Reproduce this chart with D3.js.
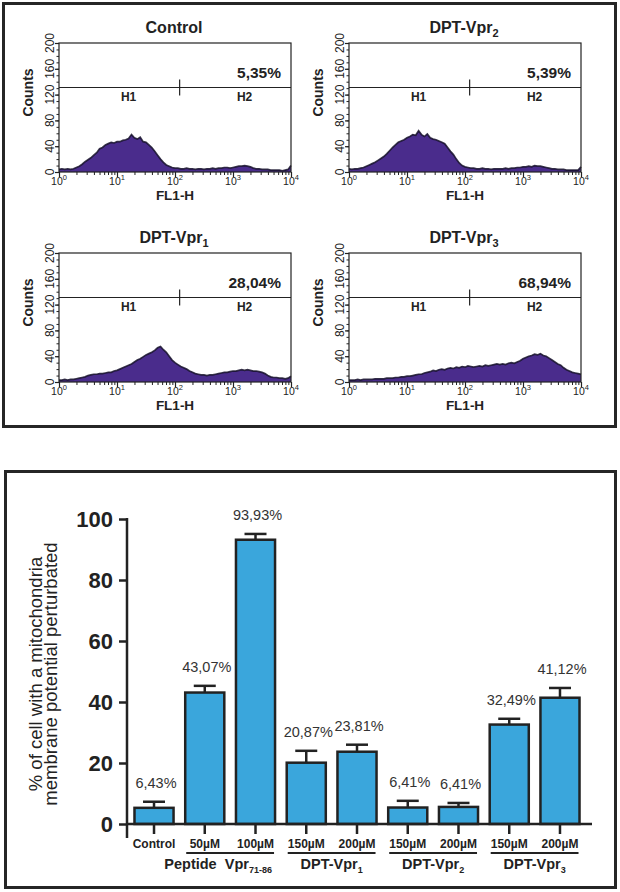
<!DOCTYPE html>
<html>
<head>
<meta charset="utf-8">
<script src="https://cdn.jsdelivr.net/npm/d3@7"></script>
<style>
  body { margin: 0; background: #fff; }
  svg { display: block; font-family: "Liberation Sans", Arial, Helvetica, sans-serif; }
</style>
</head>
<body>
<div id="chart"></div>
<script>
// ---- FACS histograms (FL1-H channels as log10 decades) ----
const channels = [0.00,0.05,0.10,0.15,0.20,0.25,0.30,0.35,0.40,0.45,
  0.50,0.55,0.60,0.65,0.70,0.75,0.80,0.85,0.90,0.95,
  1.00,1.05,1.10,1.15,1.20,1.25,1.30,1.35,1.40,1.45,
  1.50,1.55,1.60,1.65,1.70,1.75,1.80,1.85,1.90,1.95,
  2.00,2.05,2.10,2.15,2.20,2.25,2.30,2.35,2.40,2.45,
  2.50,2.55,2.60,2.65,2.70,2.75,2.80,2.85,2.90,2.95,
  3.00,3.05,3.10,3.15,3.20,3.25,3.30,3.35,3.40,3.45,
  3.50,3.55,3.60,3.65,3.70,3.75,3.80,3.85,3.90,3.95,4.00];

const countsControl = [4,5,4,5,4,5,7,9,12,16,
  19,22,26,30,36,38,42,44,46,45,
  47,47,49,50,52,58,53,51,54,47,
  46,42,38,32,26,20,15,11,9,7,
  6,6,5,5,6,5,5,4,5,5,
  4,5,5,6,5,6,6,7,7,6,
  7,8,9,9,10,9,8,6,5,5,
  4,4,4,3,3,3,3,2,3,4,10];
const countsVpr2 = [5,4,5,5,6,7,9,11,13,15,
  18,21,24,28,33,38,42,46,48,50,
  53,55,58,57,64,58,55,59,53,51,
  50,48,46,44,38,32,27,20,14,10,
  8,7,6,6,5,5,6,5,5,4,
  5,5,5,5,6,5,6,6,7,7,
  8,8,9,8,10,9,9,8,7,6,
  5,5,4,4,4,3,3,3,3,3,8];
const countsVpr1 = [3,3,4,3,4,4,5,6,7,8,
  10,11,12,12,13,13,14,15,15,17,
  18,20,22,24,26,28,31,34,36,39,
  42,44,46,49,53,55,50,46,40,34,
  30,27,24,22,20,17,15,13,12,11,
  11,10,11,11,12,13,14,15,15,16,
  17,17,18,19,18,19,18,17,17,16,
  15,13,10,8,7,7,6,6,5,6,9];
const countsVpr3 = [3,3,3,4,3,4,4,4,4,5,
  5,5,5,6,6,6,7,7,8,8,
  9,9,10,11,12,12,14,15,16,18,
  17,19,20,19,21,22,21,23,22,24,
  23,25,24,23,24,25,24,26,25,26,
  27,28,27,28,27,29,30,29,31,33,
  36,38,40,41,43,42,44,41,40,37,
  34,31,28,26,22,19,17,15,14,13,12];

const histTitles = ["Control", "DPT-Vpr", "DPT-Vpr", "DPT-Vpr"];
const histTitleSubs = ["", "2", "1", "3"];
const histPercents = ["5,35%", "5,39%", "28,04%", "68,94%"];
const histCounts = [countsControl, countsVpr2, countsVpr1, countsVpr3];
const countTicks = [0, 40, 80, 120, 160, 200];
const flDecades = [0, 1, 2, 3, 4];
const markerCount = 131;   // H1/H2 gate marker height
const markerSplit = 2.08;  // log10 boundary between H1 and H2

// ---- Bar chart ----
const barLabels = ["Control", "50µM", "100µM", "150µM", "200µM", "150µM", "200µM", "150µM", "200µM"];
const barMeans = [5.3, 43.1, 93.2, 20.1, 23.7, 5.4, 5.6, 32.6, 41.4];
const barErrors = [2.0, 2.2, 1.9, 3.9, 2.3, 2.2, 1.3, 1.9, 3.2];
const barValueText = ["6,43%", "43,07%", "93,93%", "20,87%", "23,81%", "6,41%", "6,41%", "32,49%", "41,12%"];
const groupNames = ["Peptide  Vpr", "DPT-Vpr", "DPT-Vpr", "DPT-Vpr"];
const groupSubs = ["71-86", "1", "2", "3"];
const groupFirst = [1, 3, 5, 7];
const groupLast = [2, 4, 6, 8];
const pctTicks = [0, 20, 40, 60, 80, 100];

const W = 620, H = 892;
const svg = d3.select("#chart").append("svg").attr("width", W).attr("height", H);

// outer frames
svg.append("rect").attr("x", 3.5).attr("y", 3.5).attr("width", 612).attr("height", 423)
  .attr("fill", "none").attr("stroke", "#262626").attr("stroke-width", 3);
svg.append("rect").attr("x", 5.5).attr("y", 471.5).attr("width", 610).attr("height", 416)
  .attr("fill", "none").attr("stroke", "#262626").attr("stroke-width", 3);

// ---------- histograms ----------
const panels = [{x: 59, y: 43}, {x: 349, y: 43}, {x: 59, y: 253}, {x: 349, y: 253}];
const pw = 232, ph = 129;

panels.forEach((p, i) => {
  const g = svg.append("g").attr("transform", `translate(${p.x},${p.y})`);
  const x = d3.scaleLog().domain([1, 1e4]).range([0, pw]);
  const y = d3.scaleLinear().domain([0, 200]).range([ph, 0]);
  const pts = channels.map((c, k) => [Math.pow(10, c), histCounts[i][k]]);

  const area = d3.area().x(d => x(d[0])).y0(y(0)).y1(d => y(d[1]));
  const line = d3.line().x(d => x(d[0])).y(d => y(d[1]));
  g.append("path").attr("d", area(pts)).attr("fill", "#4a2c8c");
  g.append("path").attr("d", line(pts)).attr("fill", "none")
    .attr("stroke", "#16122a").attr("stroke-width", 1.7).attr("stroke-opacity", 0.85);

  // frame box
  g.append("rect").attr("width", pw).attr("height", ph)
    .attr("fill", "none").attr("stroke", "#222").attr("stroke-width", 1.2);

  // x axis: major + minor log ticks
  const xMinor = d3.axisBottom(x).tickValues(x.ticks()).tickSize(3).tickFormat("");
  g.append("g").attr("transform", `translate(0,${ph})`).call(xMinor)
    .call(a => a.select(".domain").remove())
    .call(a => a.selectAll("line").attr("stroke", "#222"));
  const xMajor = d3.axisBottom(x).tickValues(flDecades.map(e => Math.pow(10, e))).tickSize(5).tickFormat("");
  g.append("g").attr("transform", `translate(0,${ph})`).call(xMajor)
    .call(a => a.select(".domain").remove())
    .call(a => a.selectAll("line").attr("stroke", "#222").attr("stroke-width", 1.2));
  flDecades.forEach(e => {
    const t = g.append("text").attr("x", x(Math.pow(10, e))).attr("y", ph + 12.5)
      .attr("text-anchor", "middle").attr("font-size", 10.5).attr("fill", "#222");
    t.append("tspan").text("10");
    t.append("tspan").attr("dy", -5).attr("font-size", 7.5).text(e);
  });
  g.append("text").attr("x", pw / 2).attr("y", ph + 27.5).attr("text-anchor", "middle")
    .attr("font-size", 13.5).attr("font-weight", "bold").attr("fill", "#222").text("FL1-H");

  // y axis: minor + major ticks, rotated labels
  const yMinor = d3.axisLeft(y).tickValues(d3.ticks(0, 200, 20)).tickSize(2.5).tickFormat("");
  g.append("g").call(yMinor).call(a => a.select(".domain").remove())
    .call(a => a.selectAll("line").attr("stroke", "#222"));
  const yMajor = d3.axisLeft(y).tickValues(countTicks).tickSize(4).tickFormat("");
  g.append("g").call(yMajor).call(a => a.select(".domain").remove())
    .call(a => a.selectAll("line").attr("stroke", "#222").attr("stroke-width", 1.2));
  countTicks.forEach(v => {
    g.append("text").attr("transform", `translate(-5,${y(v)}) rotate(-90)`)
      .attr("text-anchor", "middle").attr("font-size", 12).attr("fill", "#222").text(v);
  });
  g.append("text").attr("transform", `translate(-26,${ph / 2 - 15}) rotate(-90)`)
    .attr("text-anchor", "middle").attr("font-size", 14).attr("font-weight", "bold")
    .attr("fill", "#222").text("Counts");

  // title
  const tt = g.append("text").attr("x", pw / 2 - 1).attr("y", -10).attr("text-anchor", "middle")
    .attr("font-size", 16).attr("font-weight", "bold").attr("fill", "#222");
  tt.append("tspan").text(histTitles[i]);
  if (histTitleSubs[i]) tt.append("tspan").attr("dy", 4).attr("font-size", 11).text(histTitleSubs[i]);

  // gate marker
  const my = y(markerCount);
  g.append("line").attr("x1", 0).attr("x2", pw).attr("y1", my).attr("y2", my)
    .attr("stroke", "#222").attr("stroke-width", 1.2);
  const sx = x(Math.pow(10, markerSplit));
  g.append("line").attr("x1", sx).attr("x2", sx).attr("y1", my - 8).attr("y2", my + 8)
    .attr("stroke", "#222").attr("stroke-width", 1.2);
  g.append("text").attr("x", x(Math.pow(10, 1.2))).attr("y", my + 13).attr("text-anchor", "middle")
    .attr("font-size", 12).attr("font-weight", "bold").attr("fill", "#222").text("H1");
  g.append("text").attr("x", x(Math.pow(10, 3.2))).attr("y", my + 13).attr("text-anchor", "middle")
    .attr("font-size", 12).attr("font-weight", "bold").attr("fill", "#222").text("H2");
  g.append("text").attr("x", pw - 10).attr("y", my - 10).attr("text-anchor", "end")
    .attr("font-size", 15.5).attr("font-weight", "bold").attr("fill", "#222").text(histPercents[i]);
});

// ---------- bar chart ----------
const yb = d3.scaleLinear().domain([0, 100]).range([824, 519]);
const xb = d3.scaleBand().domain(d3.range(barLabels.length)).range([129, 585])
  .paddingInner(0.23).paddingOuter(0.108);
const bc = svg.append("g");

// bars
bc.selectAll("rect.bar").data(barMeans).enter().append("rect").attr("class", "bar")
  .attr("x", (d, i) => xb(i)).attr("width", xb.bandwidth())
  .attr("y", d => yb(d)).attr("height", d => yb(0) - yb(d))
  .attr("fill", "#3aa6dc").attr("stroke", "#222").attr("stroke-width", 2.5);

// error bars (upper only)
barMeans.forEach((m, i) => {
  const cx = xb(i) + xb.bandwidth() / 2;
  bc.append("line").attr("x1", cx).attr("x2", cx).attr("y1", yb(m)).attr("y2", yb(m + barErrors[i]))
    .attr("stroke", "#222").attr("stroke-width", 2.5);
  bc.append("line").attr("x1", cx - 11).attr("x2", cx + 11)
    .attr("y1", yb(m + barErrors[i])).attr("y2", yb(m + barErrors[i]))
    .attr("stroke", "#222").attr("stroke-width", 2.5);
  bc.append("text").attr("x", cx + 2).attr("y", yb(m + barErrors[i]) - 14)
    .attr("text-anchor", "middle").attr("font-size", 14.5).attr("fill", "#333").text(barValueText[i]);
});

// y axis
const yAxis = d3.axisLeft(yb).tickValues(pctTicks).tickSize(8).tickPadding(6);
bc.append("g").attr("transform", "translate(127,0)").call(yAxis)
  .call(a => a.select(".domain").remove())
  .call(a => a.selectAll("line").attr("stroke", "#222").attr("stroke-width", 2.5))
  .call(a => a.selectAll("text").attr("font-size", 22).attr("font-weight", "bold")
    .attr("fill", "#222").attr("font-family", "Liberation Sans, Arial, sans-serif"));
bc.append("line").attr("x1", 127).attr("x2", 127).attr("y1", 518).attr("y2", 838)
  .attr("stroke", "#222").attr("stroke-width", 2.5);

// x axis
bc.append("line").attr("x1", 126).attr("x2", 592).attr("y1", 824).attr("y2", 824)
  .attr("stroke", "#222").attr("stroke-width", 2.5);
const xAxis = d3.axisBottom(xb).tickSize(10).tickPadding(5).tickFormat(i => barLabels[i]);
bc.append("g").attr("transform", "translate(0,824)").call(xAxis)
  .call(a => a.select(".domain").remove())
  .call(a => a.selectAll("line").attr("stroke", "#222").attr("stroke-width", 2.5))
  .call(a => a.selectAll("text").attr("font-size", 12).attr("font-weight", "bold")
    .attr("fill", "#222").attr("font-family", "Liberation Sans, Arial, sans-serif"));

// groups
groupNames.forEach((name, k) => {
  const x0 = xb(groupFirst[k]), x1 = xb(groupLast[k]) + xb.bandwidth();
  bc.append("line").attr("x1", x0 + 1).attr("x2", x1 - 1).attr("y1", 853).attr("y2", 853)
    .attr("stroke", "#222").attr("stroke-width", 2);
  const t = bc.append("text").attr("x", (x0 + x1) / 2 - (k === 0 ? 12 : 0)).attr("y", 869)
    .attr("text-anchor", "middle").attr("font-size", 14.5).attr("font-weight", "bold")
    .attr("fill", "#222").style("white-space", "pre");
  t.append("tspan").text(name);
  t.append("tspan").attr("dy", 4).attr("font-size", 9).text(groupSubs[k]);
});

// y axis title
const yt = bc.append("text").attr("transform", "translate(0,674) rotate(-90)")
  .attr("text-anchor", "middle").attr("font-size", 18.5).attr("fill", "#222");
yt.append("tspan").attr("x", 0).attr("y", 42).text("% of cell with a mitochondria");
yt.append("tspan").attr("x", 0).attr("y", 57).text("membrane potential perturbated");
</script>
</body>
</html>
